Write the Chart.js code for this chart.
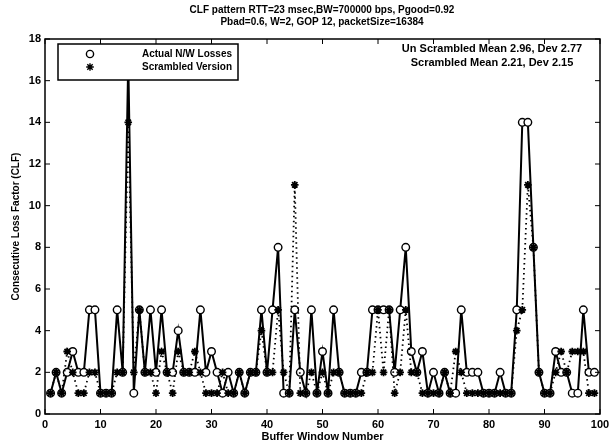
<!DOCTYPE html>
<html><head><meta charset="utf-8">
<script src="https://cdn.jsdelivr.net/npm/chart.js@4.4.0/dist/chart.umd.min.js"></script>
<style>html,body{margin:0;padding:0;background:#fff}#wrap{width:614px;height:445px}</style>
</head><body><div id="wrap"><canvas id="c" width="614" height="445"></canvas></div>
<script>
const windows = [1,2,3,4,5,6,7,8,9,10,11,12,13,14,15,16,17,18,19,20,21,22,23,24,25,26,27,28,29,30,31,32,33,34,35,36,37,38,39,40,41,42,43,44,45,46,47,48,49,50,51,52,53,54,55,56,57,58,59,60,61,62,63,64,65,66,67,68,69,70,71,72,73,74,75,76,77,78,79,80,81,82,83,84,85,86,87,88,89,90,91,92,93,94,95,96,97,98,99];
const actualLosses = [1,2,1,2,3,2,2,5,5,1,1,1,5,2,17,1,5,2,5,2,5,2,2,4,2,2,2,5,2,3,2,1,2,1,2,1,2,2,5,2,5,8,1,1,5,2,1,5,1,3,1,5,2,1,1,1,2,2,5,5,5,5,2,5,8,3,2,3,1,2,1,2,1,1,5,2,2,2,1,1,1,2,1,1,5,14,14,8,2,1,1,3,2,2,1,1,5,2,2];
const scrambledLosses = [1,2,1,3,2,1,1,2,2,1,1,1,2,2,14,2,5,2,2,1,3,2,1,3,2,2,3,2,1,1,1,2,1,1,2,1,2,2,4,2,2,5,2,1,11,1,1,2,1,2,1,2,2,1,1,1,1,2,2,5,2,5,1,2,5,2,2,1,1,1,1,2,1,3,2,1,1,1,1,1,1,1,1,1,4,5,11,8,2,1,1,2,3,2,3,3,3,1,1];
const xTicks = [0,10,20,30,40,50,60,70,80,90,100];
const yTicks = [0,2,4,6,8,10,12,14,16,18];
const titleLines = ['CLF pattern RTT=23 msec,BW=700000 bps, Pgood=0.92','Pbad=0.6, W=2, GOP 12, packetSize=16384'];
const legendLabels = ['Actual N/W Losses','Scrambled Version'];
const statLines = ['Un Scrambled Mean 2.96, Dev 2.77','Scrambled Mean 2.21, Dev 2.15'];

const FONT = '"Liberation Sans", Arial, Helvetica, sans-serif';

const decor = {
  id:'decor',
  afterDraw(chart){
    const ctx = chart.ctx, a = chart.chartArea;
    const xs = chart.scales.x, ys = chart.scales.y;
    ctx.save();
    ctx.strokeStyle='#000'; ctx.lineWidth=1.5;
    ctx.strokeRect(a.left, a.top, a.right-a.left, a.bottom-a.top);
    ctx.lineWidth=1;
    ctx.beginPath();
    xTicks.forEach(v=>{const p=xs.getPixelForValue(v);
      ctx.moveTo(p,a.bottom);ctx.lineTo(p,a.bottom-5);
      ctx.moveTo(p,a.top);ctx.lineTo(p,a.top+5);});
    yTicks.forEach(v=>{const p=ys.getPixelForValue(v);
      ctx.moveTo(a.left,p);ctx.lineTo(a.left+5,p);
      ctx.moveTo(a.right,p);ctx.lineTo(a.right-5,p);});
    ctx.stroke();
    // title
    ctx.fillStyle='#000';
    ctx.font='bold 10px '+FONT;
    ctx.textAlign='center'; ctx.textBaseline='middle';
    ctx.fillText(titleLines[0], 322, 10);
    ctx.fillText(titleLines[1], 322, 22);
    // legend
    ctx.fillStyle='#fff';
    ctx.fillRect(58,44,180,36);
    ctx.lineWidth=1.5; ctx.strokeStyle='#000';
    ctx.strokeRect(58,44,180,36);
    ctx.lineWidth=1.4;
    ctx.beginPath(); ctx.arc(90,54,3.6,0,Math.PI*2); ctx.stroke();
    ctx.beginPath();
    for(let k=0;k<4;k++){const ang=k*Math.PI/4;ctx.moveTo(90-3.8*Math.cos(ang),67-3.8*Math.sin(ang));ctx.lineTo(90+3.8*Math.cos(ang),67+3.8*Math.sin(ang));}
    ctx.stroke();
    ctx.fillStyle='#000';
    ctx.font='bold 10px '+FONT;
    ctx.textAlign='left';
    ctx.fillText(legendLabels[0], 142, 54);
    ctx.fillText(legendLabels[1], 142, 67);
    // stats
    ctx.textAlign='center';
    ctx.font='bold 11px '+FONT;
    ctx.fillText(statLines[0], 492, 49);
    ctx.fillText(statLines[1], 492, 63);
    ctx.restore();
  }
};

new Chart(document.getElementById('c'), {
  type:'line',
  data:{
    datasets:[
      {label:legendLabels[0], data:windows.map((w,i)=>({x:w,y:actualLosses[i]})),
       borderColor:'#000', borderWidth:2, backgroundColor:'#fff',
       pointStyle:'circle', pointRadius:3.8, pointBorderWidth:1.4, pointBorderColor:'#000', pointBackgroundColor:'#fff', tension:0, order:2},
      {label:legendLabels[1], data:windows.map((w,i)=>({x:w,y:scrambledLosses[i]})),
       borderColor:'#000', borderWidth:1.8, borderDash:[1.5,3.5],
       pointStyle:'star', pointRadius:3.8, pointBorderWidth:1.8, pointBorderColor:'#000', pointBackgroundColor:'#000', tension:0, order:1}
    ]
  },
  options:{
    responsive:false, animation:false, maintainAspectRatio:false,
    layout:{padding:{top:39,right:14,left:0,bottom:0}},
    plugins:{legend:{display:false}, tooltip:{enabled:false}, title:{display:false}},
    scales:{
      x:{type:'linear', min:0, max:100,
         afterBuildTicks(s){s.ticks=xTicks.map(v=>({value:v}));},
         afterFit(s){s.height=31;},
         grid:{display:false, drawTicks:false}, border:{display:false},
         ticks:{color:'#000', padding:4, maxRotation:0, font:{family:FONT, size:11, weight:'bold'}},
         title:{display:true, text:'Buffer Window Number', color:'#000', padding:{top:0,bottom:1}, font:{family:FONT,size:11,weight:'bold'}}},
      y:{type:'linear', min:0, max:18,
         afterBuildTicks(s){s.ticks=yTicks.map(v=>({value:v}));},
         afterFit(s){s.width=45;},
         grid:{display:false, drawTicks:false}, border:{display:false},
         ticks:{color:'#000', padding:4, font:{family:FONT, size:11, weight:'bold'}},
         title:{display:true, text:'Consecutive Loss Factor (CLF)', color:'#000', padding:{top:10,bottom:0}, font:{family:FONT,size:10,weight:'bold'}}}
    }
  },
  plugins:[decor]
});
</script></body></html>
